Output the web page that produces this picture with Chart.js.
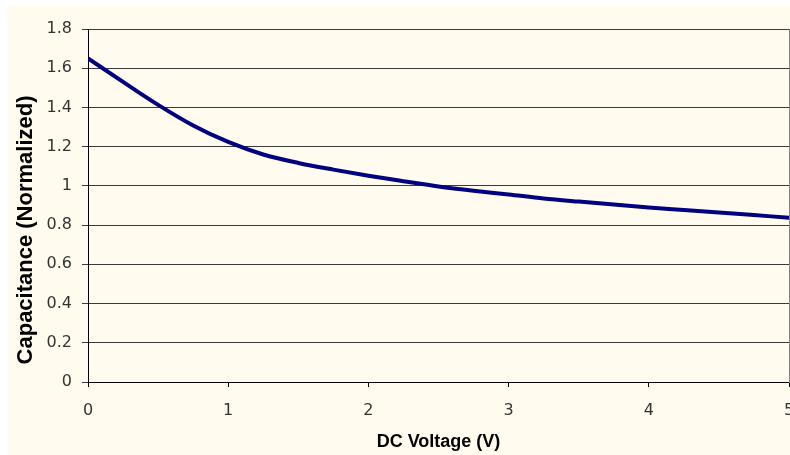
<!DOCTYPE html>
<html>
<head>
<meta charset="utf-8">
<script src="https://cdn.jsdelivr.net/npm/chart.js@4"></script>
<style>
  html, body { margin: 0; padding: 0; background: #ffffff; }
  #wrap { width: 790px; height: 455px; position: relative; }
</style>
</head>
<body>
<div id="wrap"><canvas id="c" width="790" height="455"></canvas></div>
<script>
// ---- data ----
const voltage = [0, 0.25, 0.5, 0.75, 1, 1.25, 1.5, 1.75, 2, 2.25, 2.5, 2.75, 3, 3.25, 3.5, 3.75, 4, 4.25, 4.5, 4.75, 5];
const capacitance = [1.65, 1.53, 1.413, 1.308, 1.224, 1.16, 1.117, 1.083, 1.052, 1.024, 0.997, 0.975, 0.956, 0.936, 0.92, 0.905, 0.89, 0.877, 0.864, 0.851, 0.838];
const xTickValues = [0, 1, 2, 3, 4, 5];
const xTickLabels = ['0', '1', '2', '3', '4', '5'];
const yTickValues = [0, 0.2, 0.4, 0.6, 0.8, 1, 1.2, 1.4, 1.6, 1.8];
const yTickLabels = ['0', '0.2', '0.4', '0.6', '0.8', '1', '1.2', '1.4', '1.6', '1.8'];
const xTitle = 'DC Voltage (V)';
const yTitle = 'Capacitance (Normalized)';

const points = voltage.map((v, i) => ({ x: v, y: capacitance[i] }));

const bgPlugin = {
  id: 'bg',
  beforeDraw(chart) {
    const ctx = chart.ctx;
    ctx.save();
    ctx.fillStyle = '#ffffff';
    ctx.fillRect(0, 0, chart.width, chart.height);
    ctx.fillStyle = '#FFFCEF';
    ctx.fillRect(7, 5, chart.width - 7, chart.height - 5);
    ctx.restore();
  }
};

const tickFont = { family: 'DejaVu Sans', size: 16 };

new Chart(document.getElementById('c'), {
  type: 'line',
  data: {
    datasets: [{
      data: points,
      borderColor: '#000080',
      borderWidth: 4,
      pointRadius: 0,
      fill: false,
      cubicInterpolationMode: 'monotone'
    }]
  },
  options: {
    responsive: false,
    animation: false,
    devicePixelRatio: 1,
    plugins: { legend: { display: false }, tooltip: { enabled: false } },
    layout: { autoPadding: false, padding: { left: 0, top: 29, right: 0, bottom: 0 } },
    scales: {
      x: {
        type: 'linear',
        min: 0, max: 5,
        afterBuildTicks(scale) { scale.ticks = xTickValues.map(v => ({ value: v })); },
        afterFit(scale) { scale.height = 73; scale.paddingLeft = 0; scale.paddingRight = 0; },
        ticks: {
          color: '#333333',
          font: tickFont,
          padding: 14,
          maxRotation: 0,
          autoSkip: false,
          callback: (v, i) => xTickLabels[i]
        },
        grid: { drawOnChartArea: false, drawTicks: true, tickLength: 5, color: '#000000' },
        border: { display: true, color: '#000000', width: 1 },
        title: {
          display: true,
          text: xTitle,
          color: '#000000',
          font: { family: 'Liberation Sans', size: 18, weight: 'bold' },
          padding: { top: 0, bottom: 2 }
        }
      },
      y: {
        type: 'linear',
        position: 'left',
        min: 0, max: 1.8,
        afterBuildTicks(scale) { scale.ticks = yTickValues.map(v => ({ value: v })); },
        afterFit(scale) { scale.width = 88; },
        ticks: {
          color: '#333333',
          font: tickFont,
          padding: 10,
          autoSkip: false,
          callback: (v, i) => yTickLabels[i]
        },
        grid: { drawOnChartArea: true, drawTicks: true, tickLength: 6, color: '#3a3a3a', lineWidth: 1 },
        border: { display: true, color: '#000000', width: 1 },
        title: {
          display: true,
          text: yTitle + '        ',
          color: '#000000',
          font: { family: 'Liberation Sans', size: 22, weight: 'bold' },
          padding: { top: 13, bottom: 0 }
        }
      },
      y2: {
        type: 'linear',
        position: 'right',
        min: 0, max: 1.8,
        afterFit(scale) { scale.width = 1; scale.paddingTop = 0; scale.paddingBottom = 0; },
        ticks: { display: false },
        grid: { drawOnChartArea: false, drawTicks: false },
        border: { display: true, color: '#808080', width: 1 }
      }
    }
  },
  plugins: [bgPlugin]
});
</script>
</body>
</html>
